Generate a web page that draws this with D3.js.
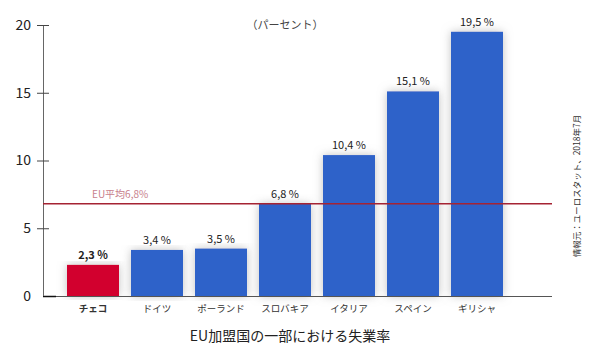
<!DOCTYPE html>
<html><head><meta charset="utf-8">
<script src="https://cdn.jsdelivr.net/npm/d3@7"></script>
<style>body{margin:0;background:#fff}svg{display:block}text{font-family:"Noto Sans CJK JP","Noto Sans",sans-serif}</style>
</head><body>
<svg id="c" width="600" height="364"></svg>
<script>
const categories = ["チェコ","ドイツ","ポーランド","スロバキア","イタリア","スペイン","ギリシャ"];
const values = [2.3, 3.4, 3.5, 6.8, 10.4, 15.1, 19.5];
const valueLabels = ["2,3 %","3,4 %","3,5 %","6,8 %","10,4 %","15,1 %","19,5 %"];
const yTicks = [0, 5, 10, 15, 20];
const euAverage = 6.8;
const euLabel = "EU平均6,8%";
const title = "EU加盟国の一部における失業率";
const unit = "（パーセント）";
const source = "情報元：ユーロスタット、2018年7月";

const svg = d3.select("#c");
const y = d3.scaleLinear().domain([0, 20]).range([296, 25]);
const x = d3.scaleBand().domain(categories).range([61, 509]).paddingInner(0.1875).paddingOuter(0.09375);

const defs = svg.append("defs");
const f = defs.append("filter").attr("id","sh").attr("x","-30%").attr("y","-10%").attr("width","160%").attr("height","120%");
f.append("feGaussianBlur").attr("in","SourceAlpha").attr("stdDeviation",5).attr("result","b");
f.append("feFlood").attr("flood-color","#999").attr("flood-opacity",0.6);
f.append("feComposite").attr("in2","b").attr("operator","in").attr("result","s");
const m = f.append("feMerge");
m.append("feMergeNode").attr("in","s");
m.append("feMergeNode").attr("in","SourceGraphic");

// bars
svg.append("g").selectAll("rect").data(values).join("rect")
  .attr("x",(d,i)=>x(categories[i]))
  .attr("y",d=>y(d))
  .attr("width",x.bandwidth())
  .attr("height",d=>y(0)-y(d))
  .attr("fill",(d,i)=>i===0?"#d2022e":"#2e62c9")
  .attr("filter","url(#sh)");

// value labels
svg.append("g").selectAll("text").data(values).join("text")
  .attr("x",(d,i)=>x(categories[i])+x.bandwidth()/2)
  .attr("y",d=>y(d)-6)
  .attr("text-anchor","middle")
  .attr("font-size",11)
  .attr("font-weight",(d,i)=>i===0?"bold":"normal")
  .attr("fill","#222")
  .text((d,i)=>valueLabels[i]);

// baseline
svg.append("line").attr("x1",43).attr("x2",552).attr("y1",y(0)+0.5).attr("y2",y(0)+0.5).attr("stroke","#555").attr("stroke-width",1);
svg.append("line").attr("x1",43).attr("x2",56).attr("y1",y(0)+0.5).attr("y2",y(0)+0.5).attr("stroke","#111").attr("stroke-width",1.5);

// y axis
const ya = svg.append("g").attr("transform","translate(43,0)")
  .call(d3.axisLeft(y).tickValues(yTicks).tickSize(0).tickPadding(12).tickFormat(d3.format("d")));
ya.select(".domain").attr("stroke","#666").attr("d",`M0.5,${y(20)}V${y(0)}`);
ya.selectAll("text").attr("font-size",14).attr("fill","#222").attr("font-family","'Liberation Sans',sans-serif");
ya.selectAll(".tick").filter(d=>d>0).append("line").attr("x1",-6).attr("x2",6).attr("stroke","#444");

// EU average
svg.append("line").attr("x1",43).attr("x2",552).attr("y1",y(euAverage)).attr("y2",y(euAverage)).attr("stroke","#a52333").attr("stroke-width",1.5);
svg.append("text").attr("x",92).attr("y",y(euAverage)-6).attr("font-size",10).attr("fill","#c8808c").text(euLabel);

// category labels
svg.append("g").selectAll("text").data(categories).join("text")
  .attr("x",d=>x(d)+x.bandwidth()/2)
  .attr("y",312)
  .attr("text-anchor","middle")
  .attr("font-size",9.5)
  .attr("font-weight",(d,i)=>i===0?"bold":"normal")
  .attr("fill","#333")
  .text(d=>d);

svg.append("text").attr("x",285).attr("y",29).attr("text-anchor","middle").attr("font-size",11).attr("fill","#444").text(unit);
svg.append("text").attr("x",290).attr("y",341).attr("text-anchor","middle").attr("font-size",14).attr("fill","#222").text(title);
svg.append("text").attr("transform","translate(580,186) rotate(-90)").attr("text-anchor","middle").attr("font-size",8.5).attr("fill","#333").text(source);
</script>
</body></html>
